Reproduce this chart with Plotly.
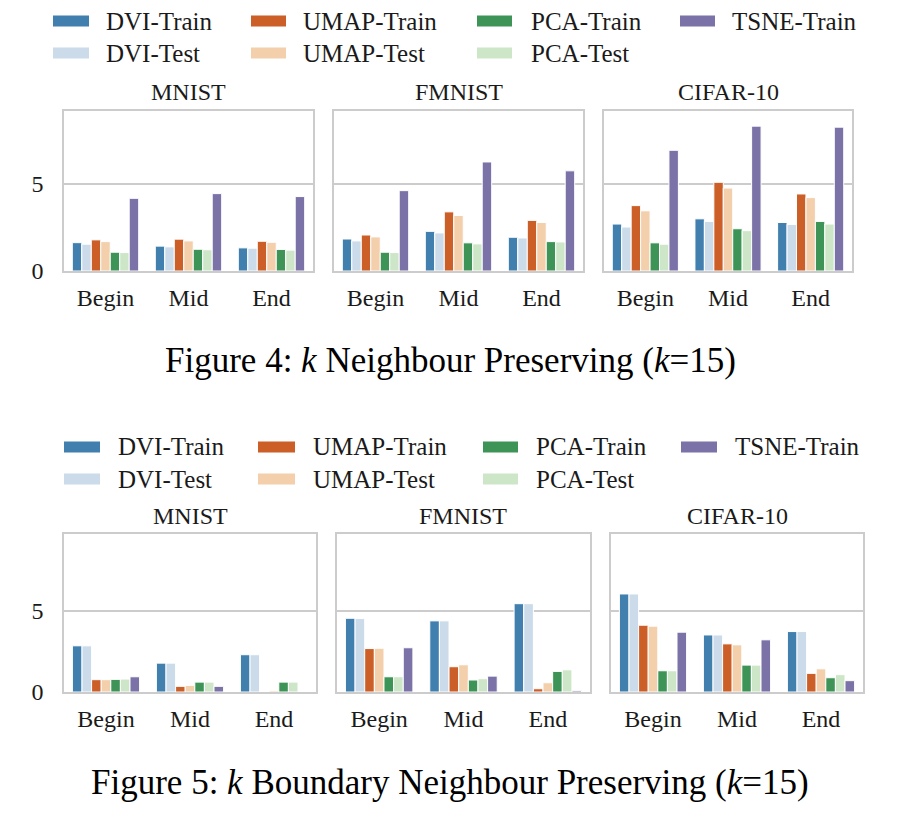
import plotly.graph_objects as go
from plotly.subplots import make_subplots

W, H = 900, 833
OFF = 8  # page body margin compensation
FONT = "Liberation Serif"

stages = ["Begin", "Mid", "End"]
datasets = ["MNIST", "FMNIST", "CIFAR-10"]
series_names = ["DVI-Train", "DVI-Test", "UMAP-Train", "UMAP-Test",
                "PCA-Train", "PCA-Test", "TSNE-Train"]
series_colors = ["#4180ae", "#cbdbea", "#cc5e28", "#f3cfac",
                 "#3e9457", "#cde6c8", "#7b73a8"]
y_ticks = [0, 5]

# Figure 4: k Neighbour Preserving (rows = series, cols = Begin/Mid/End)
fig4_mnist = [
    [1.63, 1.43, 1.33],
    [1.54, 1.39, 1.31],
    [1.79, 1.83, 1.71],
    [1.69, 1.73, 1.65],
    [1.08, 1.25, 1.24],
    [1.06, 1.22, 1.20],
    [4.18, 4.45, 4.28],
]
fig4_fmnist = [
    [1.84, 2.28, 1.94],
    [1.73, 2.19, 1.90],
    [2.07, 3.40, 2.91],
    [1.96, 3.19, 2.79],
    [1.08, 1.62, 1.69],
    [1.06, 1.56, 1.67],
    [4.62, 6.27, 5.76],
]
fig4_cifar = [
    [2.70, 3.00, 2.79],
    [2.53, 2.85, 2.68],
    [3.76, 5.10, 4.43],
    [3.46, 4.77, 4.22],
    [1.62, 2.43, 2.85],
    [1.54, 2.32, 2.70],
    [6.94, 8.33, 8.27],
]
# Figure 5: k Boundary Neighbour Preserving
fig5_mnist = [
    [2.85, 1.78, 2.30],
    [2.85, 1.78, 2.30],
    [0.76, 0.35, 0.00],
    [0.76, 0.41, 0.08],
    [0.78, 0.61, 0.61],
    [0.80, 0.61, 0.61],
    [0.94, 0.35, 0.00],
]
fig5_fmnist = [
    [4.55, 4.39, 5.45],
    [4.53, 4.39, 5.45],
    [2.68, 1.56, 0.20],
    [2.70, 1.68, 0.57],
    [0.94, 0.74, 1.27],
    [0.94, 0.82, 1.37],
    [2.73, 0.98, 0.08],
]
fig5_cifar = [
    [6.05, 3.52, 3.73],
    [6.05, 3.52, 3.73],
    [4.12, 2.97, 1.15],
    [4.06, 2.91, 1.43],
    [1.31, 1.66, 0.88],
    [1.31, 1.66, 1.07],
    [3.69, 3.22, 0.70],
]

captions = ["Figure 4: <i>k</i> Neighbour Preserving (<i>k</i>=15)",
            "Figure 5: <i>k</i> Boundary Neighbour Preserving (<i>k</i>=15)"]
y_max = [9.2, 9.75]

# layout in screen pixels
panels_x = [[(64, 313), (334, 583), (604, 852)],
            [(64, 316), (337, 590), (611, 863)]]
panels_y = [(111, 271), (534, 692)]
title_y = [92, 516]
legend_rows_y = [(21, 53), (447, 479)]
legend_cols = [[(53, 89, 104), (251, 286, 301), (477, 512, 529), (680, 715, 730)],
               [(64, 100, 116), (258, 295, 311), (483, 518, 534), (681, 717, 733)]]
caption_y = [360, 782]


def px(x):
    return (x - OFF) / W


def py(y):
    return 1 - (y - OFF) / H


fig = make_subplots(rows=2, cols=3)
data_sets = [[fig4_mnist, fig4_fmnist, fig4_cifar],
             [fig5_mnist, fig5_fmnist, fig5_cifar]]

annotations = []
shapes = []
for r in range(2):
    for c in range(3):
        vals = data_sets[r][c]
        for s, name in enumerate(series_names):
            fig.add_trace(go.Bar(
                x=stages, y=vals[s], name=name,
                marker=dict(color=series_colors[s], line=dict(color="white", width=1)),
                showlegend=False,
            ), row=r + 1, col=c + 1)
        idx = r * 3 + c + 1
        xa = "xaxis" if idx == 1 else f"xaxis{idx}"
        ya = "yaxis" if idx == 1 else f"yaxis{idx}"
        x0, x1 = panels_x[r][c]
        y0, y1 = panels_y[r]
        fig.layout[xa].update(
            domain=[px(x0), px(x1)], showline=True, mirror=True,
            linecolor="#cccccc", linewidth=1.6, showgrid=False, ticks="",
            tickfont=dict(family=FONT, size=24, color="#1a1a1a"),
            ticklabelstandoff=4, automargin=False,
        )
        fig.layout[ya].update(
            domain=[py(y1), py(y0)], range=[0, y_max[r]], tickvals=y_ticks,
            showline=True, mirror=True, linecolor="#cccccc", linewidth=1.6,
            showgrid=True, gridcolor="#cccccc", gridwidth=1.6, zeroline=False,
            ticks="", showticklabels=(c == 0),
            tickfont=dict(family=FONT, size=24, color="#1a1a1a"),
            ticklabelstandoff=14, automargin=False,
        )
        annotations.append(dict(
            x=px((x0 + x1) / 2), y=py(title_y[r]), xref="paper", yref="paper",
            text=datasets[c], showarrow=False, xanchor="center", yanchor="middle",
            font=dict(family=FONT, size=24, color="#1a1a1a")))

    # legend (column-major like matplotlib ncol=4)
    for s, name in enumerate(series_names):
        col = s // 2
        row = s % 2
        sx0, sx1, tx = legend_cols[r][col]
        cy = legend_rows_y[r][row]
        shapes.append(dict(type="rect", xref="paper", yref="paper",
                           x0=px(sx0), x1=px(sx1), y0=py(cy + 5.5), y1=py(cy - 5.5),
                           fillcolor=series_colors[s], line=dict(width=0)))
        annotations.append(dict(
            x=px(tx), y=py(cy), xref="paper", yref="paper", text=name,
            showarrow=False, xanchor="left", yanchor="middle",
            font=dict(family=FONT, size=25, color="#1a1a1a")))

    annotations.append(dict(
        x=px(450), y=py(caption_y[r]), xref="paper", yref="paper", text=captions[r],
        showarrow=False, xanchor="center", yanchor="middle",
        font=dict(family=FONT, size=35, color="#000000")))

fig.update_layout(
    width=W, height=H, margin=dict(l=0, r=0, t=0, b=0),
    paper_bgcolor="white", plot_bgcolor="white",
    barmode="group", bargap=0.2, bargroupgap=0,
    annotations=annotations, shapes=shapes,
    font=dict(family=FONT),
)

fig.write_html("out.html")
